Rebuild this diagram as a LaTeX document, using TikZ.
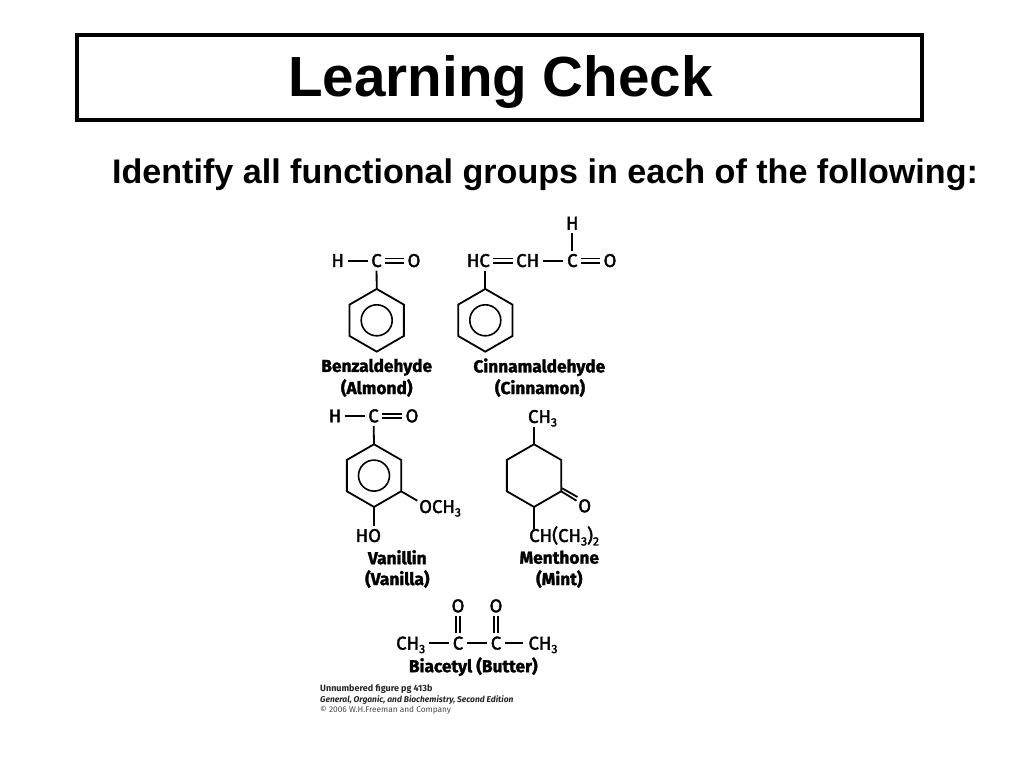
\documentclass[tikz,border=0pt]{standalone}
\usepackage{fontspec}
\setmainfont{Liberation Sans}
\newfontfamily\chemfont[FakeBold=2.2]{Fira Sans}
\newfontfamily\namefont[FakeBold=1.6,BoldFont={Fira Sans Bold}]{Fira Sans}
\newfontfamily\creditfont{Fira Sans}
\usetikzlibrary{shapes.geometric}
\newcommand{\subnum}[1]{\raisebox{-3.5pt}{\fontsize{12}{12}\selectfont #1}}
\tikzset{
  x=1pt,y=-1pt,
  bond/.style={line width=1.8pt,line cap=butt},
  dbond/.style={line width=1.6pt,double,double distance=2.8pt,line cap=butt},
  atom/.style={font=\chemfont\fontsize{18.5}{18.5}\selectfont,inner sep=3.5pt,text height=12.5pt,text depth=0pt,anchor=center},
  atomw/.style={atom,anchor=west,inner sep=0pt},
  ringshape/.style={regular polygon,regular polygon sides=6,shape border rotate=30,draw,line width=1.8pt,minimum size=62.7pt,inner sep=0pt,outer sep=0pt},
  ringin/.style={circle,draw,line width=1.6pt,minimum size=31pt,inner sep=0pt},
  cname/.style={font=\namefont\bfseries\fontsize{17.3}{17.3}\selectfont,inner sep=0pt,anchor=center},
  credit/.style={inner sep=0pt,anchor=west},
}
\begin{document}
\begin{tikzpicture}
\useasboundingbox[fill=white] (0,0) rectangle (1024,768);
% Heading
\node[draw=black,line width=4pt,minimum width=845pt,minimum height=85pt,inner sep=0pt] (title) at (499.5,77.5) {};
\node[inner sep=0pt,font=\bfseries\fontsize{56.6}{56.6}\selectfont] (titletext) at (500.5,82) {Learning Check};
\node[inner sep=0pt,font=\bfseries\fontsize{34.1}{34.1}\selectfont] (sub) at (545,175) {Identify all functional groups in each of the following:};

% Benzaldehyde
\node[atom] (bH) at (337.7,260.7) {H};
\node[atom] (bC) at (376.5,260.7) {C};
\node[atom] (bO) at (414,260.7) {O};
\node[ringshape] (bR) at (376.7,320.3) {};
\node[ringin] (bI) at (376.7,320.3) {};
\draw[bond] (bH) -- (bC);
\draw[dbond] (bC) -- (bO);
\draw[bond] (bC) -- (bR.corner 1);
\node[cname] (bN1) at (376.7,367.3) {Benzaldehyde};
\node[cname] (bN2) at (376.7,388) {(Almond)};

% Cinnamaldehyde
\node[atom] (cHC) at (478.3,260.7) {HC};
\node[atom] (cCH) at (527.7,260.7) {CH};
\node[atom] (cC) at (572.3,260.7) {C};
\node[atom] (cO) at (610,260.7) {O};
\node[atom] (cH) at (572.3,223.3) {H};
\node[ringshape] (cR) at (485.3,320.3) {};
\node[ringin] (cI) at (485.3,320.3) {};
\draw[dbond] (cHC) -- (cCH);
\draw[bond] (cCH) -- (cC);
\draw[dbond] (cC) -- (cO);
\draw[bond] (cH) -- (cC);
\draw[bond] (cR.corner 1) -- (cR.corner 1 |- cHC.south);
\node[cname] (cN1) at (539.3,367.3) {Cinnamaldehyde};
\node[cname] (cN2) at (540,388) {(Cinnamon)};

% Vanillin
\node[atom] (vH) at (335,416) {H};
\node[atom] (vC) at (373.5,416) {C};
\node[atom] (vO) at (412,416) {O};
\node[ringshape] (vR) at (374,475.6) {};
\node[ringin] (vI) at (374,475.6) {};
\node[atomw] (vM) at (419,506.7) {OCH\subnum{3}};
\node[atom] (vHO) at (368.3,535.7) {HO};
\coordinate (vMe) at (417.3,500.7);
\draw[bond] (vH) -- (vC);
\draw[dbond] (vC) -- (vO);
\draw[bond] (vC) -- (vR.corner 1);
\draw[bond] (vR.corner 5) -- (vMe);
\draw[bond] (vR.corner 4) -- (vR.corner 4 |- vHO.north);
\node[cname] (vN1) at (397.3,557.3) {Vanillin};
\node[cname] (vN2) at (397.3,579) {(Vanilla)};

% Menthone
\node[atom] (mMe) at (542.5,416.7) {CH\subnum{3}};
\node[ringshape] (mR) at (534,475.6) {};
\node[atom] (mO) at (584.7,506) {O};
\node[atomw] (mP) at (529,535.7) {CH(CH\subnum{3})\subnum{2}};
\coordinate (mD1) at (576.5,500.7);
\coordinate (mD2) at (562,488.2);
\coordinate (mD3) at (577.5,497);
\draw[bond] (mR.corner 1) -- (mR.corner 1 |- mMe.south);
\draw[bond] (mR.corner 5) -- (mD1);
\draw[bond] (mD2) -- (mD3);
\draw[bond] (mR.corner 4) -- (mR.corner 4 |- mP.north);
\node[cname] (mN1) at (559.3,557.3) {Menthone};
\node[cname] (mN2) at (559.3,579) {(Mint)};

% Biacetyl
\node[atomw] (aL) at (396,643.3) {CH\subnum{3}};
\node[atom] (aC1) at (458,643.3) {C};
\node[atom] (aC2) at (496,643.3) {C};
\node[atomw] (aR) at (528.3,643.3) {CH\subnum{3}};
\node[atom] (aO1) at (458,606) {O};
\node[atom] (aO2) at (496,606) {O};
\coordinate (aLe) at (429.3,643.3);
\coordinate (aRe) at (523.3,643.3);
\draw[bond] (aLe) -- (aC1);
\draw[bond] (aC1) -- (aC2);
\draw[bond] (aC2) -- (aRe);
\draw[dbond] (aO1) -- (aC1);
\draw[dbond] (aO2) -- (aC2);
\node[cname] (aN) at (473.3,666.7) {Biacetyl (Butter)};

% Credits
\node[credit,font=\creditfont\bfseries\fontsize{9}{9}\selectfont,text=black!85] (k1) at (320,688.7) {Unnumbered figure pg 413b};
\node[credit,font=\creditfont\bfseries\itshape\fontsize{8.45}{8.45}\selectfont,text=black!85] (k2) at (320,699.6) {General, Organic, and Biochemistry, Second Edition};
\node[credit,font=\creditfont\fontsize{8.3}{8.3}\selectfont,text=black!70] (k3) at (320,710.7) {© 2006 W.H.Freeman and Company};
\end{tikzpicture}
\end{document}
